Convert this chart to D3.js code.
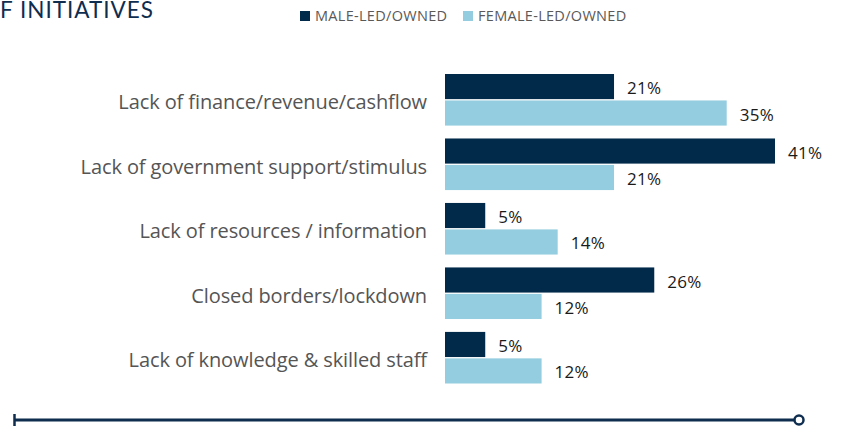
<!DOCTYPE html>
<html>
<head>
<meta charset="utf-8">
<script src="https://cdn.jsdelivr.net/npm/d3@7"></script>
<style>
  body { margin: 0; background: #fff; }
  svg { display: block; }
</style>
</head>
<body>
<div id="chart"></div>
<script>
let categories = [
  "Lack of finance/revenue/cashflow",
  "Lack of government support/stimulus",
  "Lack of resources / information",
  "Closed borders/lockdown",
  "Lack of knowledge & skilled staff"
];
let series_names = ["MALE-LED/OWNED", "FEMALE-LED/OWNED"];
let male_values = [21, 41, 5, 26, 5];
let female_values = [35, 21, 14, 12, 12];
let colors = ["#012a4a", "#94cddf"];

let width = 855, height = 428;

let svg = d3.select("#chart").append("svg")
  .attr("width", width)
  .attr("height", height);

// title (cropped at the top-left in the original)
svg.append("text")
  .attr("x", 0)
  .attr("y", 18)
  .attr("font-family", "Lato, sans-serif")
  .attr("font-size", 22.5)
  .attr("letter-spacing", 1)
  .attr("fill", "#0f2d4f")
  .text("F INITIATIVES");

// legend
let legend = svg.append("g").attr("transform", "translate(300,10)");
let legend_x = [0, 163];
series_names.forEach(function(name, i) {
  legend.append("rect")
    .attr("x", legend_x[i]).attr("y", 1)
    .attr("width", 10).attr("height", 10)
    .attr("fill", colors[i]);
  legend.append("text")
    .attr("x", legend_x[i] + 15).attr("y", 11)
    .attr("font-family", "'Open Sans', sans-serif")
    .attr("font-size", 14.5)
    .attr("letter-spacing", 0.3)
    .attr("fill", "#595959")
    .text(name);
});

// scales
let x = d3.scaleLinear().domain([0, 41]).range([445, 775]);
let y = d3.scaleBand().domain(categories).range([74, 383.5]).paddingInner(0.2).paddingOuter(0);
let y_inner = d3.scaleBand().domain([0, 1]).range([0, y.bandwidth()]).paddingInner(0.05);

let rows = categories.map(function(c, i) {
  return { cat: c, vals: [male_values[i], female_values[i]] };
});

let groups = svg.selectAll(".grp")
  .data(rows).enter()
  .append("g")
  .attr("class", "grp")
  .attr("transform", d => "translate(0," + y(d.cat) + ")");

groups.selectAll("rect")
  .data(d => d.vals).enter()
  .append("rect")
  .attr("x", x(0))
  .attr("y", (d, i) => y_inner(i))
  .attr("width", d => x(d) - x(0))
  .attr("height", y_inner.bandwidth())
  .attr("fill", (d, i) => colors[i]);

groups.selectAll(".val")
  .data(d => d.vals).enter()
  .append("text")
  .attr("class", "val")
  .attr("x", d => x(d) + 13)
  .attr("y", (d, i) => y_inner(i) + y_inner.bandwidth() / 2 + 1)
  .attr("dominant-baseline", "central")
  .attr("font-family", "'Open Sans', sans-serif")
  .attr("font-size", 17)
  .attr("letter-spacing", 0.3)
  .attr("fill", "#1a1a1a")
  .text(d => d + "%");

// category labels
groups.append("text")
  .attr("x", 427)
  .attr("y", y.bandwidth() / 2 + 2)
  .attr("text-anchor", "end")
  .attr("dominant-baseline", "central")
  .attr("font-family", "'Open Sans', sans-serif")
  .attr("font-size", 20)
  .attr("letter-spacing", -0.1)
  .attr("fill", "#555555")
  .text(d => d.cat);

// bottom rule with end marks
let rule = svg.append("g");
rule.append("line")
  .attr("x1", 14).attr("x2", 794)
  .attr("y1", 420).attr("y2", 420)
  .attr("stroke", "#0f2d4f").attr("stroke-width", 3);
rule.append("line")
  .attr("x1", 14.5).attr("x2", 14.5)
  .attr("y1", 414).attr("y2", 426)
  .attr("stroke", "#0f2d4f").attr("stroke-width", 2.5);
rule.append("circle")
  .attr("cx", 799).attr("cy", 420).attr("r", 4.5)
  .attr("fill", "#fff")
  .attr("stroke", "#0f2d4f").attr("stroke-width", 2.5);
</script>
</body>
</html>
